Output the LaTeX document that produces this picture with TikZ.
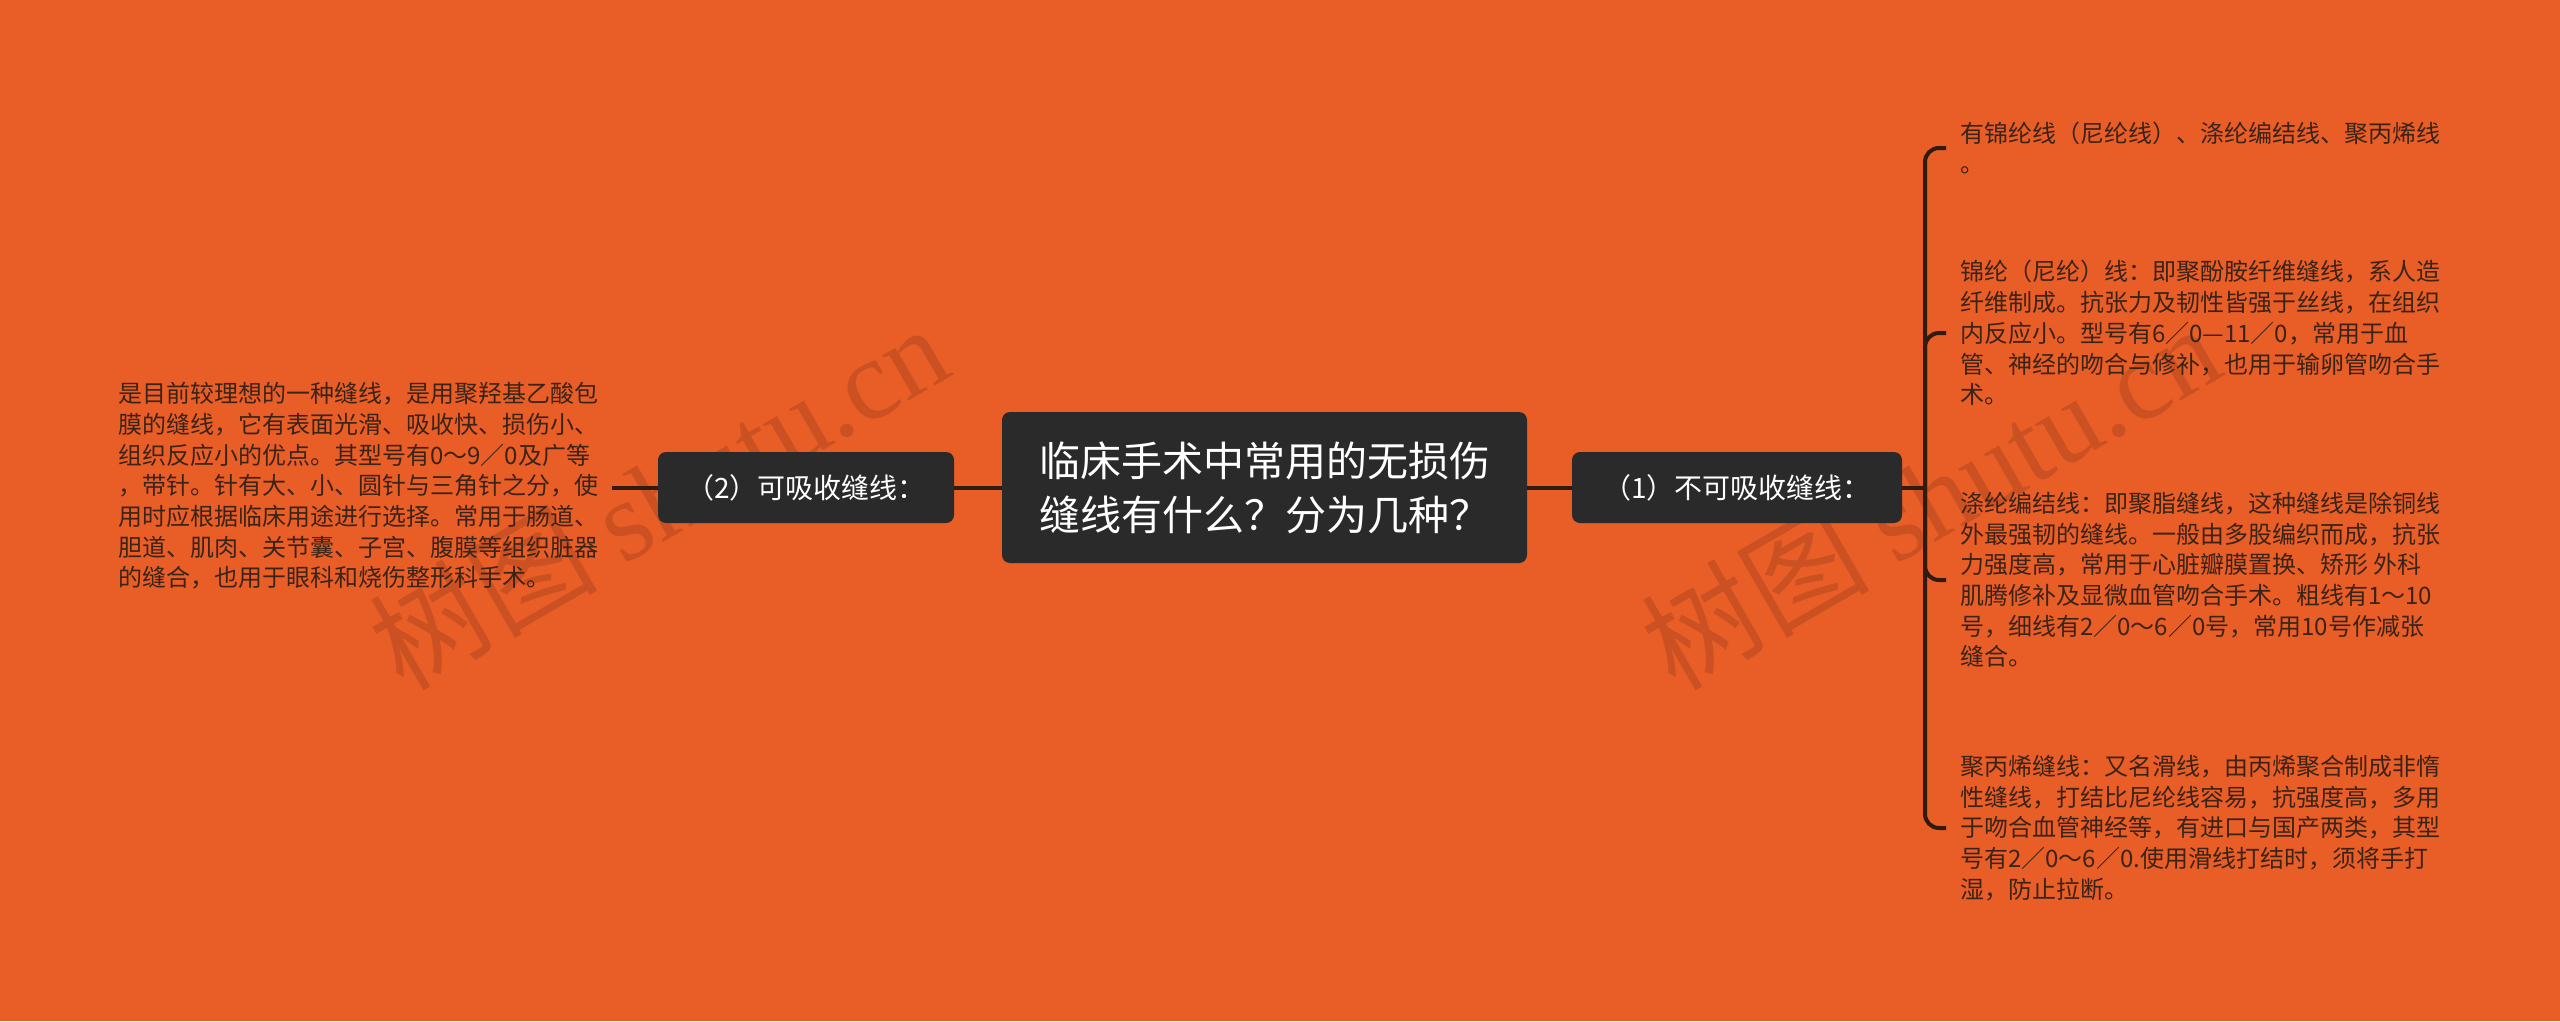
\documentclass[tikz,border=0pt]{standalone}
\usepackage{fontspec}
\setmainfont{Noto Sans CJK SC}
\newfontfamily\wmserif{Liberation Serif}
\definecolor{bg}{HTML}{E95D27}
\definecolor{nodefill}{HTML}{2A2A2A}
\definecolor{linecol}{HTML}{2F1B10}
\definecolor{leaftext}{HTML}{3A2418}
\begin{document}
\begin{tikzpicture}[x=1pt,y=-1pt,
  box/.style={fill=nodefill, rounded corners=8pt, text=white, inner sep=0pt, align=left},
  leaf/.style={text=leaftext, anchor=west, align=left, inner sep=0pt, font=\fontsize{24}{30.7}\selectfont},
  conn/.style={draw=linecol, line width=4pt},
  wm/.style={rotate=30, text=black, opacity=0.12, inner sep=0pt, font=\fontsize{114}{114}\selectfont}]
\fill[bg] (0,0) rectangle (2560,1021);
\useasboundingbox (0,0) rectangle (2560,1021);

% watermarks
\node[wm] (wm1) at (658,496) {树图 {\wmserif shutu.cn}};
\node[wm] (wm2) at (1930,496) {树图 {\wmserif shutu.cn}};

% main nodes
\node[box, minimum width=525pt, minimum height=151pt, font=\fontsize{41}{54}\selectfont] (root) at (1264.5,487.5) {临床手术中常用的无损伤\\缝线有什么？分为几种？};
\node[box, minimum width=296pt, minimum height=71pt, font=\fontsize{28}{34}\selectfont] (left) at (806,487.5) {（2）可吸收缝线：};
\node[box, minimum width=330pt, minimum height=71pt, font=\fontsize{28}{34}\selectfont] (right) at (1737,487.5) {（1）不可吸收缝线：};

% left leaf
\node[leaf] (l1) at (118,486) {是目前较理想的一种缝线，是用聚羟基乙酸包\\膜的缝线，它有表面光滑、吸收快、损伤小、\\组织反应小的优点。其型号有0～9／0及广等\\，带针。针有大、小、圆针与三角针之分，使\\用时应根据临床用途进行选择。常用于肠道、\\胆道、肌肉、关节囊、子宫、腹膜等组织脏器\\的缝合，也用于眼科和烧伤整形科手术。};

% right leaves
\node[leaf] (r1) at (1960,148) {有锦纶线（尼纶线）、涤纶编结线、聚丙烯线\\。};
\node[leaf] (r2) at (1960,333) {锦纶（尼纶）线：即聚酚胺纤维缝线，系人造\\纤维制成。抗张力及韧性皆强于丝线，在组织\\内反应小。型号有6／0—11／0，常用于血\\管、神经的吻合与修补，也用于输卵管吻合手\\术。};
\node[leaf] (r3) at (1960,580) {涤纶编结线：即聚脂缝线，这种缝线是除铜线\\外最强韧的缝线。一般由多股编织而成，抗张\\力强度高，常用于心脏瓣膜置换、矫形 外科\\肌腾修补及显微血管吻合手术。粗线有1～10\\号，细线有2／0～6／0号，常用10号作减张\\缝合。};
\node[leaf] (r4) at (1960,828) {聚丙烯缝线：又名滑线，由丙烯聚合制成非惰\\性缝线，打结比尼纶线容易，抗强度高，多用\\于吻合血管神经等，有进口与国产两类，其型\\号有2／0～6／0.使用滑线打结时，须将手打\\湿，防止拉断。};

% connectors
\draw[conn] (left.east) -- (root.west);
\draw[conn] (root.east) -- (right.west);
\coordinate (lend) at (612,487.5);
\draw[conn] (left.west) -- (lend);
\coordinate (rj) at (1925,487.5);
\draw[conn] (right.east) -- (rj);
\foreach \n in {r1,r2,r3,r4}{
  \draw[conn, rounded corners=14pt] (rj) |- ([xshift=-14pt]\n.west);
}
\end{tikzpicture}
\end{document}
